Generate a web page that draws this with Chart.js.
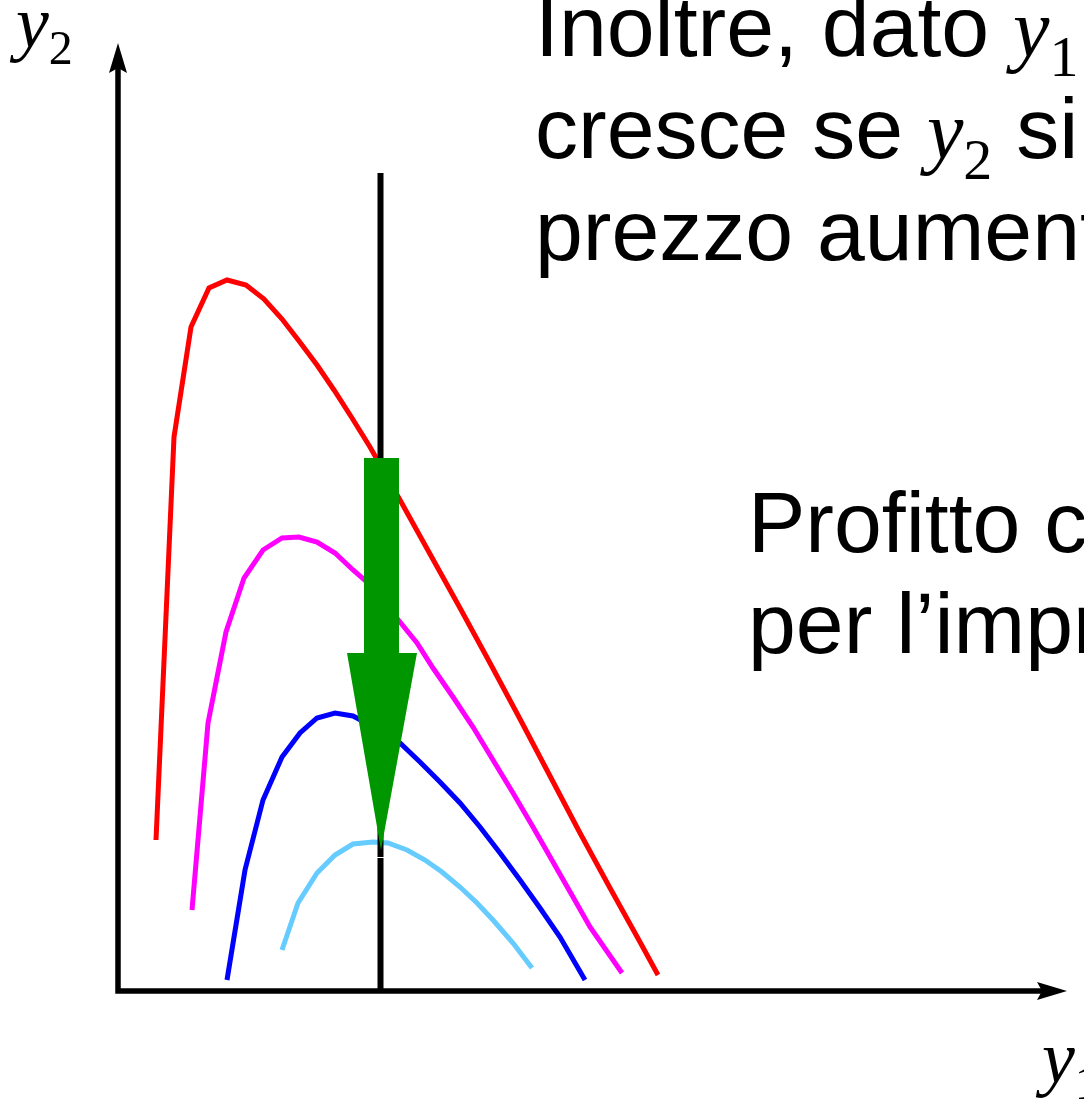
<!DOCTYPE html>
<html>
<head>
<meta charset="utf-8">
<script src="https://cdn.jsdelivr.net/npm/chart.js@4.4.1/dist/chart.umd.min.js"></script>
<style>
  html, body { margin: 0; padding: 0; background: #fff; overflow: hidden; }
  #wrap { width: 1084px; height: 1103px; position: relative; }
  canvas { display: block; }
</style>
</head>
<body>
<div id="wrap"><canvas id="c" width="1084" height="1103"></canvas></div>
<script>
// Iso-profit curves in the (y1, y2) plane, origin at the axes corner.
const curveRed = [[38,151],[56,554],[73,664],[91,703],[109,711],[128,706],[146,692],[164,672],[181,650],[199,626],[216,601],[234,573],[252,544],[282,491],[312,437],[342,383],[372,328],[402,272],[432,215],[462,158],[492,103],[522,49],[540,16]];
const curveMagenta = [[74,81],[90,268],[108,359],[126,413],[145,441],[164,453],[181,454],[199,449],[217,438],[235,421],[249,409],[265,390],[282,369],[299,348],[315,323],[335,294],[355,264],[375,231],[395,198],[415,164],[435,129],[455,94],[472,64],[504,18]];
const curveBlue = [[109,11],[127,121],[145,191],[164,234],[182,258],[199,273],[217,278],[235,275],[252,266],[267,258],[282,248],[302,229],[322,209],[342,188],[362,164],[382,138],[402,111],[422,83],[442,54],[467,11]];
const curveLightBlue = [[164,41],[180,88],[199,118],[217,136],[235,147],[255,149],[270,148],[289,141],[307,131],[324,119],[342,104],[359,88],[375,71],[395,48],[414,23]];

// Fixed y1 level (vertical line) and the arrow pointing to lower profit curves
const fixedY1 = 262.5;
const fixedLineUpper = [[fixedY1, 818],[fixedY1, 134]];
const fixedLineLower = [[fixedY1, 133],[fixedY1, 0]];
const downArrow = [[246,533],[281,533],[281,338],[299,338],[263,141],[229,338],[246,338]];

// Axis extents (arrow tips)
const axisXEnd = 949;
const axisYEnd = 948;

const toPts = arr => arr.map(p => ({ x: p[0], y: p[1] }));

function lineSet(data, color, width, order) {
  return {
    type: 'line',
    data: toPts(data),
    borderColor: color,
    borderWidth: width,
    pointRadius: 0,
    fill: false,
    tension: 0,
    clip: false,
    order: order,
    borderCapStyle: 'butt',
    borderJoinStyle: 'miter'
  };
}

const axesPlugin = {
  id: 'axesArrows',
  beforeDatasetsDraw(chart) {
    const ctx = chart.ctx, xs = chart.scales.x, ys = chart.scales.y;
    const x0 = xs.getPixelForValue(0), y0 = ys.getPixelForValue(0);
    const xe = xs.getPixelForValue(axisXEnd), ye = ys.getPixelForValue(axisYEnd);
    ctx.save();
    ctx.strokeStyle = '#000';
    ctx.fillStyle = '#000';
    ctx.lineWidth = 5.5;
    ctx.lineCap = 'butt';
    ctx.beginPath();
    ctx.moveTo(x0, y0 + 2.75);
    ctx.lineTo(x0, ye + 20);
    ctx.moveTo(x0 - 2.75, y0);
    ctx.lineTo(xe - 20, y0);
    ctx.stroke();
    // arrowheads
    ctx.beginPath();
    ctx.moveTo(x0, ye);
    ctx.lineTo(x0 + 9, ye + 30);
    ctx.lineTo(x0, ye + 25);
    ctx.lineTo(x0 - 9, ye + 30);
    ctx.closePath();
    ctx.fill();
    ctx.beginPath();
    ctx.moveTo(xe, y0);
    ctx.lineTo(xe - 30, y0 - 9);
    ctx.lineTo(xe - 25, y0);
    ctx.lineTo(xe - 30, y0 + 9);
    ctx.closePath();
    ctx.fill();
    ctx.restore();
  }
};

const arrowPlugin = {
  id: 'downArrow',
  afterDatasetsDraw(chart) {
    const ctx = chart.ctx, xs = chart.scales.x, ys = chart.scales.y;
    ctx.save();
    ctx.fillStyle = '#009600';
    ctx.beginPath();
    downArrow.forEach((p, i) => {
      const px = xs.getPixelForValue(p[0]), py = ys.getPixelForValue(p[1]);
      if (i === 0) ctx.moveTo(px, py); else ctx.lineTo(px, py);
    });
    ctx.closePath();
    ctx.fill();
    ctx.restore();
  }
};

const SANS = '"Liberation Sans", Arial, sans-serif';
const SERIF = '"Liberation Serif", "Times New Roman", serif';

// draw a run of mixed text pieces: [text, font, baselineShift]
function drawRun(ctx, x, y, pieces) {
  let cx = x;
  pieces.forEach(([t, font, dy]) => {
    ctx.font = font;
    ctx.fillText(t, cx, y + (dy || 0));
    cx += ctx.measureText(t).width;
  });
}

const textPlugin = {
  id: 'captions',
  afterDraw(chart) {
    const ctx = chart.ctx;
    ctx.save();
    ctx.fillStyle = '#000';
    ctx.textBaseline = 'alphabetic';
    ctx.textAlign = 'left';
    const body = '86px ' + SANS;
    const ital = 'italic 82px ' + SERIF;
    const sub = '58px ' + SERIF;
    drawRun(ctx, 535, 56, [['Inoltre, dato ', body], ['y', ital], ['1', sub, 20], [', il profitto', body]]);
    drawRun(ctx, 535, 158, [['cresce se ', body], ['y', ital], ['2', sub, 21], [' si riduce se il', body]]);
    drawRun(ctx, 535, 260, [['prezzo aumenta', body]]);
    drawRun(ctx, 748, 552, [['Profitto crescente', body]]);
    drawRun(ctx, 748, 653, [['per l\u2019impresa', body]]);
    // axis labels
    drawRun(ctx, 16, 47, [['y', 'italic 74px ' + SERIF], ['2', '48px ' + SERIF, 17]]);
    drawRun(ctx, 1042, 1082, [['y', 'italic 74px ' + SERIF], ['1', '48px ' + SERIF, 17]]);
    ctx.restore();
  }
};

new Chart(document.getElementById('c'), {
  type: 'line',
  data: {
    datasets: [
      lineSet(fixedLineUpper, '#000000', 6, 1),
      lineSet(fixedLineLower, '#000000', 6, 1),
      lineSet(curveRed, '#FF0000', 5, 2),
      lineSet(curveMagenta, '#FF00FF', 5, 2),
      lineSet(curveBlue, '#0000FF', 5, 2),
      lineSet(curveLightBlue, '#66CCFF', 5, 2)
    ]
  },
  options: {
    responsive: false,
    animation: false,
    devicePixelRatio: 1,
    layout: { padding: 0 },
    plugins: { legend: { display: false }, tooltip: { enabled: false } },
    scales: {
      x: { type: 'linear', min: -118, max: 966, display: false },
      y: { type: 'linear', min: -112, max: 991, display: false }
    }
  },
  plugins: [axesPlugin, arrowPlugin, textPlugin]
});
</script>
</body>
</html>
